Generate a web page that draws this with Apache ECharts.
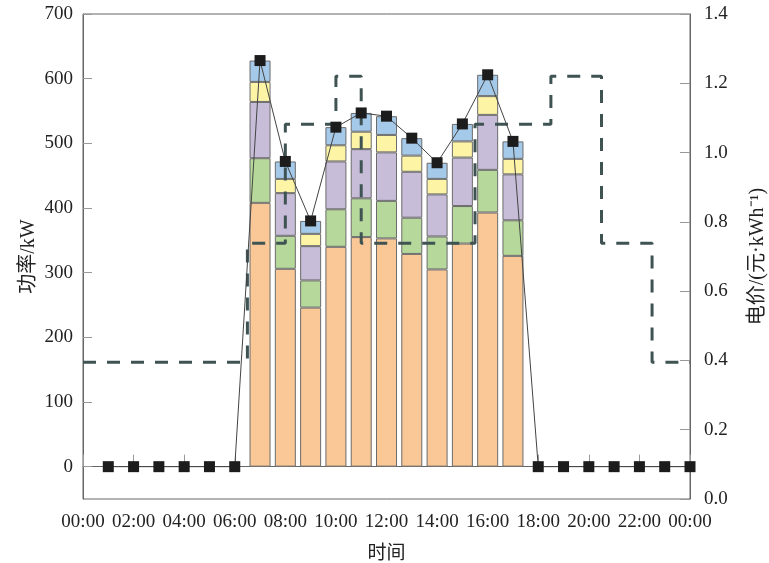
<!DOCTYPE html>
<html>
<head>
<meta charset="utf-8">
<script src="https://cdn.jsdelivr.net/npm/echarts@6/dist/echarts.min.js"></script>
<style>
html,body{margin:0;padding:0;background:#fff;}
#chart{width:769px;height:563px;}
</style>
</head>
<body>
<div id="chart"></div>
<script>
// Hours of the stacked bars
const barHours = [7, 8, 9, 10, 11, 12, 13, 14, 15, 16, 17];
// Stacked components (kW), bottom to top
const seg1 = [408, 306, 246, 340, 355, 353, 329, 305, 345, 393, 326]; // orange
const seg2 = [69, 51, 42, 58, 60, 58, 56, 51, 58, 66, 55];            // green
const seg3 = [87, 66, 53, 74, 76, 75, 71, 65, 75, 85, 71];            // purple
const seg4 = [31, 22, 19, 25, 27, 27, 25, 24, 25, 29, 24];            // yellow
const seg5 = [33, 27, 20, 28, 29, 29, 27, 25, 27, 33, 27];            // blue

// Total power line (square markers), hours 1..24
const lineHours = [1,2,3,4,5,6,7,8,9,10,11,12,13,14,15,16,17,18,19,20,21,22,23,24];
const lineValues = [0,0,0,0,0,0,628,472,380,525,547,542,508,470,530,606,503,0,0,0,0,0,0,0];

// Electricity price (yuan/kWh), breakpoints of the step curve
const priceHours = [0, 6.5, 8, 10, 11, 15.5, 18.5, 20.5, 22.5, 24];
const priceValues = [0.395, 0.738, 1.082, 1.22, 0.738, 1.082, 1.22, 0.738, 0.395, 0.395];

// Tick labels
const xTickHours = [0, 2, 4, 6, 8, 10, 12, 14, 16, 18, 20, 22, 24];
const leftTicks = [0, 100, 200, 300, 400, 500, 600, 700];
const hourSlots = [0,1,2,3,4,5,6,7,8,9,10,11,12,13,14,15,16,17,18,19,20,21,22,23,24];

const FONT = '"Liberation Serif", "Times New Roman", "Noto Sans CJK SC", serif';
const segColors = ['#f9c896', '#b6d99b', '#c7bdd9', '#fdf4a6', '#a5c9e9'];
const segs = [seg1, seg2, seg3, seg4, seg5];

function pad(n){ return (n < 10 ? '0' : '') + n; }

const barSeries = segs.map((s, i) => ({
  type: 'bar',
  stack: 'p',
  xAxisIndex: 1,
  barWidth: 21,
  data: barHours.map((h, j) => [h, s[j]]),
  itemStyle: { color: segColors[i], borderColor: '#6b6b6b', borderWidth: 1 },
  z: 2,
  silent: true
}));

const chart = echarts.init(document.getElementById('chart'), null, { renderer: 'canvas' });
chart.setOption({
  animation: false,
  backgroundColor: '#fff',
  grid: { left: 83, right: 79, top: 14, bottom: 64, containLabel: false, outerBoundsMode: 'none',
          show: true, borderColor: '#666', borderWidth: 1, backgroundColor: 'transparent' },
  xAxis: [{
    type: 'value', min: 0, max: 24, interval: 2,
    name: '时间', nameLocation: 'middle', nameGap: 46,
    nameTextStyle: { fontFamily: FONT, fontSize: 19, color: '#222' },
    axisLine: { show: true, lineStyle: { color: '#666', width: 1 } },
    axisTick: { show: true, inside: true, length: 12, lineStyle: { color: '#999' } },
    axisLabel: { fontFamily: FONT, fontSize: 19, color: '#222', margin: 14,
      formatter: v => xTickHours.indexOf(v) >= 0 ? pad(v % 24) + ':00' : '' },
    splitLine: { show: false }
  }, {
    type: 'category', data: hourSlots.map(String), boundaryGap: false, show: false, position: 'bottom'
  }],
  yAxis: [
    {
      type: 'value', min: -50, max: 700, position: 'left',
      name: '功率/kW', nameLocation: 'middle', nameGap: 44, nameRotate: 90, nameMoveOverlap: false,
      nameTextStyle: { fontFamily: FONT, fontSize: 20, color: '#222' },
      axisLine: { show: true, lineStyle: { color: '#666', width: 1 } },
      axisTick: { show: true, inside: true, length: 9, lineStyle: { color: '#999' }, customValues: leftTicks },
      axisLabel: { fontFamily: FONT, fontSize: 19, color: '#222', margin: 10, customValues: leftTicks },
      splitLine: { show: false }
    },
    {
      type: 'value', min: 0, max: 1.4, interval: 0.2, position: 'right',
      name: '电价/(元·kWh⁻¹)', nameLocation: 'middle', nameGap: 58, nameRotate: 90,
      nameTextStyle: { fontFamily: FONT, fontSize: 20, color: '#222' },
      axisLine: { show: true, lineStyle: { color: '#666', width: 1 } },
      axisTick: { show: true, inside: true, length: 10, lineStyle: { color: '#999' } },
      axisLabel: { fontFamily: FONT, fontSize: 19, color: '#222', margin: 14, formatter: v => v.toFixed(1) },
      splitLine: { show: false }
    }
  ],
  series: barSeries.concat([
    {
      type: 'line', yAxisIndex: 1, step: 'end',
      data: priceHours.map((h, i) => [h, priceValues[i]]),
      symbol: 'none',
      lineStyle: { color: '#3f5353', width: 3, type: [13, 11] },
      z: 4, silent: true
    },
    {
      type: 'line', yAxisIndex: 0,
      data: lineHours.map((h, i) => [h, lineValues[i]]),
      symbol: 'rect', symbolSize: 11,
      itemStyle: { color: '#1c1c1c', borderWidth: 0 },
      lineStyle: { color: '#444', width: 1 },
      z: 5, silent: true
    }
  ])
});
</script>
</body>
</html>
